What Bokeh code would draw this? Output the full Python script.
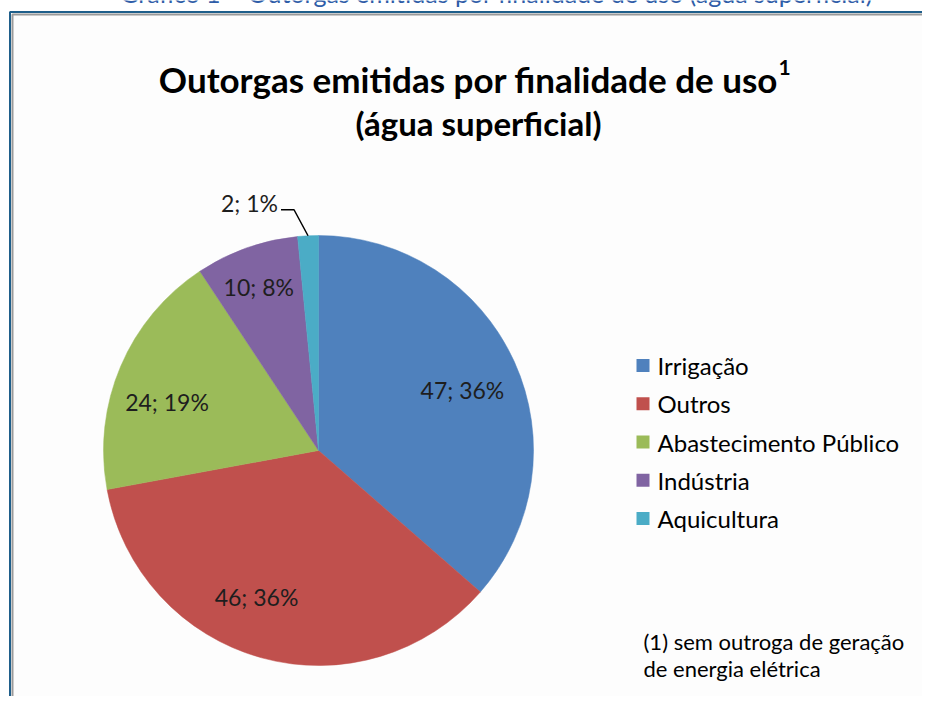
import math
from bokeh.plotting import figure
from bokeh.models import Range1d, ColumnDataSource
from bokeh.core.properties import value
from bokeh.embed import file_html
from bokeh.resources import INLINE

# ---- data ----
categories = ["Irrigação", "Outros", "Abastecimento Público", "Indústria", "Aquicultura"]
counts = [47, 46, 24, 10, 2]
percents = [36, 36, 19, 8, 1]
colors = ["#4F81BD", "#C0504D", "#9BBB59", "#8064A2", "#4BACC6"]

caption = "Gráfico 1 – Outorgas emitidas por finalidade de uso (água superficial)"
title_line1 = "Outorgas emitidas por finalidade de uso"
title_sup = "1"
title_line2 = "(água superficial)"
footnote = ["(1) sem outroga de geração", "de energia elétrica"]

# ---- layout (screen px from figure top-left; data y = H - screen y) ----
W, H = 922, 696
def Y(s):
    return H - s

p = figure(width=W, height=H, output_backend="svg", toolbar_location=None,
           x_range=Range1d(0, W), y_range=Range1d(0, H),
           min_border=0, outline_line_color=None)
p.axis.visible = False
p.grid.visible = False
p.background_fill_color = "white"
p.border_fill_color = "white"

FONT = "Lato"

# caption above the frame (cut off at the top edge, as in the source image)
p.text(x=[496], y=[Y(-8)], text=[caption], text_font=value(FONT), text_font_size="25px",
       text_align="center", text_baseline="middle", text_color="#2F5DA8")

# frame
p.quad(left=[10], right=[W + 5], bottom=[Y(H + 5)], top=[Y(12)], fill_color="#FDFDFD", line_color=None)
p.line([9.5, 9.5, W + 5], [Y(H + 5), Y(11.5), Y(11.5)], line_color="#1F5F8B", line_width=2)
p.line([12, 12, W + 5], [Y(H + 5), Y(14), Y(14)], line_color="#9A9A9A", line_width=2)

# title
p.text(x=[468], y=[Y(78)], text=[title_line1], text_font=value(FONT), text_font_style="bold",
       text_font_size="35px", text_align="center", text_baseline="middle", text_color="#000000")
p.text(x=[778], y=[Y(67)], text=[title_sup], text_font=value(FONT), text_font_style="bold",
       text_font_size="21px", text_align="left", text_baseline="middle", text_color="#000000")
p.text(x=[478], y=[Y(122)], text=[title_line2], text_font=value(FONT), text_font_style="bold",
       text_font_size="33px", text_align="center", text_baseline="middle", text_color="#000000")

# pie
cx, cy, R = 318, Y(450), 215
total = sum(counts)
starts, ends, mids = [], [], []
cum = 0
for v in counts:
    a0 = math.pi / 2 - 2 * math.pi * cum / total
    cum += v
    a1 = math.pi / 2 - 2 * math.pi * cum / total
    starts.append(a0)
    ends.append(a1)
    mids.append((a0 + a1) / 2)

src = ColumnDataSource(dict(start=starts, end=ends, color=colors, cat=categories))
p.wedge(x=cx, y=cy, radius=R, radius_units="screen", start_angle="start", end_angle="end",
        direction="clock", fill_color="color", line_color="color", line_width=0.5, source=src)

# data labels
label_texts = [f"{c}; {pc}%" for c, pc in zip(counts, percents)]
label_r = 0.72 * R
nudges = [(3, -3), (-21, 3), (-9, -12), (-8, 18)]
lx, ly = [], []
for i in range(4):
    lx.append(cx + label_r * math.cos(mids[i]) + nudges[i][0])
    ly.append(cy + label_r * math.sin(mids[i]) + nudges[i][1])
p.text(x=lx, y=ly, text=label_texts[:4], text_font=value(FONT), text_font_size="23px",
       text_align="center", text_baseline="middle", text_color="#1E1E1E")

# outside label for small slice with leader line
ax = cx + R * math.cos(mids[4])
ay = cy + R * math.sin(mids[4])
ex, ey = ax - 14, ay + 26
p.line([ax, ex, ex - 13], [ay, ey, ey], line_color="#000000", line_width=1.5)
p.text(x=[ex - 16], y=[ey + 7], text=[label_texts[4]], text_font=value(FONT), text_font_size="23px",
       text_align="right", text_baseline="middle", text_color="#1E1E1E")

# legend (manual)
leg_x, leg_y0, leg_dy = 642.5, 365, 38.25
for i, (cat, col) in enumerate(zip(categories, colors)):
    yy = Y(leg_y0 + i * leg_dy)
    p.rect(x=[leg_x], y=[yy], width=13, height=13, width_units="screen", height_units="screen",
           fill_color=col, line_color=None)
    p.text(x=[657], y=[yy], text=[cat], text_font=value(FONT), text_font_size="24px",
           text_align="left", text_baseline="middle", text_color="#000000")

# footnote
for i, line in enumerate(footnote):
    p.text(x=[643], y=[Y(641 + i * 26.5)], text=[line], text_font=value(FONT), text_font_size="22px",
           text_align="left", text_baseline="middle", text_color="#000000")

open("out.html", "w").write(file_html(p, INLINE))
